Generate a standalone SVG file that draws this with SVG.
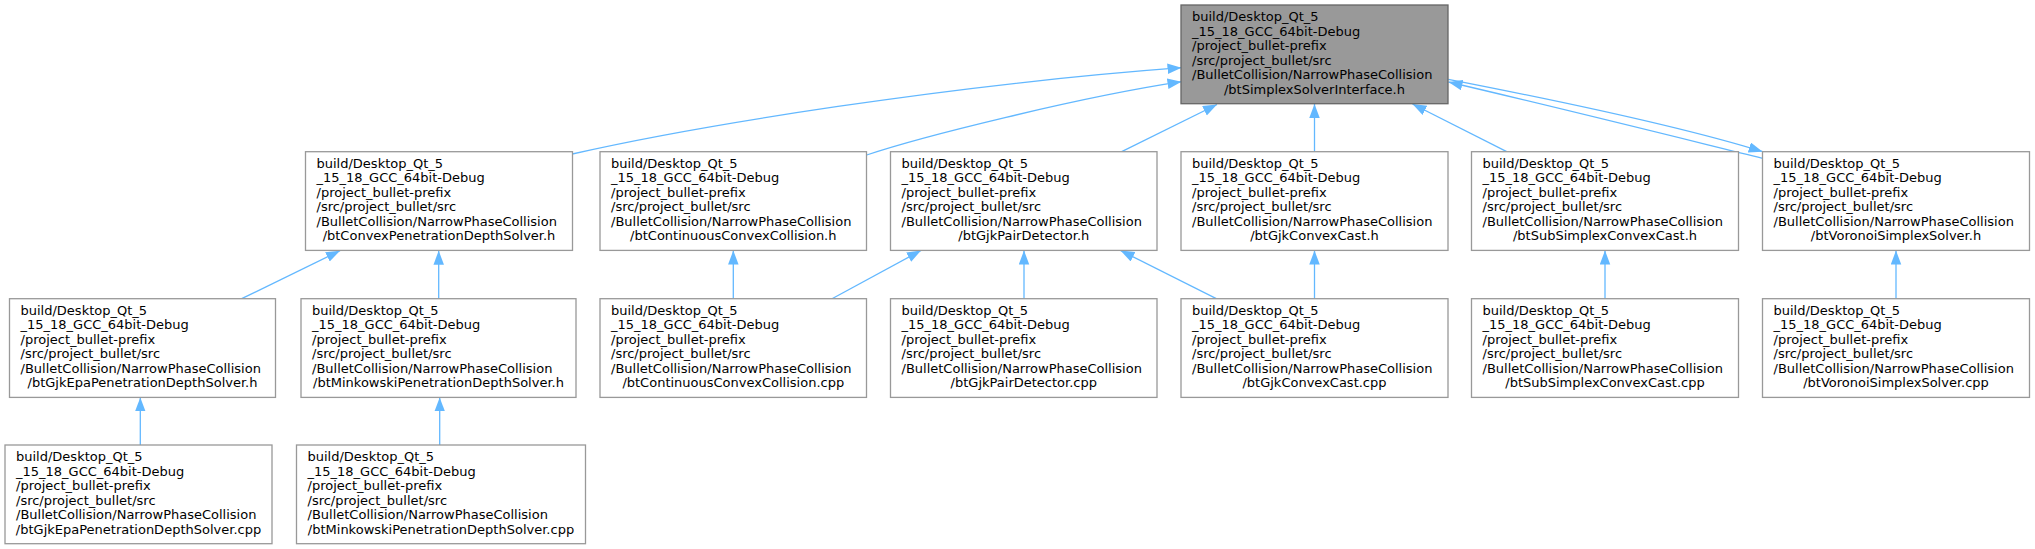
<svg xmlns="http://www.w3.org/2000/svg" width="2035" height="549" viewBox="0 0 2035 549">
<style>
.bg{fill:#ffffff}
.box{fill:#ffffff;stroke:#999999;stroke-width:1.3}
.root{fill:#999999;stroke:#666666;stroke-width:1.3}
text{font-family:"DejaVu Sans","Liberation Sans",sans-serif;font-size:13px;fill:#000000}
.c{text-anchor:middle}
.edge{fill:none;stroke:#63b8ff;stroke-width:1.3;marker-end:url(#ah)}
</style>
<defs>
<marker id="ah" markerUnits="userSpaceOnUse" markerWidth="16" markerHeight="12" refX="14" refY="5.25" orient="auto">
<path d="M0,0 L14,5.25 L0,10.5 z" fill="#63b8ff"/>
</marker>
</defs>
<rect class="bg" x="0" y="0" width="2035" height="549"/>

<g id="connectors">
<path class="edge" d="M572.3,154 C700,125 950,85 1181.5,67.7"/>
<path class="edge" d="M866.7,155 C920,137 1080,97 1181.5,81.7"/>
<path class="edge" d="M1121.7,151.7 L1217,104.5"/>
<path class="edge" d="M1314.5,151.7 L1314.5,104"/>
<path class="edge" d="M1506.7,151.7 L1412.5,104"/>
<path class="edge" d="M1762.7,158.3 C1680,138 1560,108 1448.5,82"/>
<path class="edge" d="M1448.3,79.3 C1560,101 1680,126 1762.7,151.7"/>
<path class="edge" d="M241.7,298.7 L340,250.7"/>
<path class="edge" d="M438.7,298.7 L438.7,250.7"/>
<path class="edge" d="M733.3,298.7 L733.3,250.5"/>
<path class="edge" d="M832,298.7 L921,250.5"/>
<path class="edge" d="M1024,298.7 L1024,250.5"/>
<path class="edge" d="M1216.3,298.7 L1120.5,250.5"/>
<path class="edge" d="M1314.5,298.7 L1314.5,250.5"/>
<path class="edge" d="M1605,298.7 L1605,250.5"/>
<path class="edge" d="M1896,298.7 L1896,250.5"/>
<path class="edge" d="M140.3,445 L140.3,397.4"/>
<path class="edge" d="M439.7,445 L439.7,397.4"/>
</g>

<g id="node-btSimplexSolverInterface-h">
<rect class="root" x="1181" y="5" width="267" height="98.7"/>
<text x="1192" y="21">build/Desktop_Qt_5</text>
<text x="1192" y="35.5">_15_18_GCC_64bit-Debug</text>
<text x="1192" y="50">/project_bullet-prefix</text>
<text x="1192" y="64.5">/src/project_bullet/src</text>
<text x="1192" y="79">/BulletCollision/NarrowPhaseCollision</text>
<text class="c" x="1314.5" y="93.5">/btSimplexSolverInterface.h</text>
</g>

<g id="node-btConvexPenetrationDepthSolver-h">
<rect class="box" x="305.5" y="151.7" width="267" height="98.7"/>
<text x="316.5" y="167.7">build/Desktop_Qt_5</text>
<text x="316.5" y="182.2">_15_18_GCC_64bit-Debug</text>
<text x="316.5" y="196.7">/project_bullet-prefix</text>
<text x="316.5" y="211.2">/src/project_bullet/src</text>
<text x="316.5" y="225.7">/BulletCollision/NarrowPhaseCollision</text>
<text class="c" x="439" y="240.2">/btConvexPenetrationDepthSolver.h</text>
</g>

<g id="node-btContinuousConvexCollision-h">
<rect class="box" x="600" y="151.7" width="266.5" height="98.7"/>
<text x="611" y="167.7">build/Desktop_Qt_5</text>
<text x="611" y="182.2">_15_18_GCC_64bit-Debug</text>
<text x="611" y="196.7">/project_bullet-prefix</text>
<text x="611" y="211.2">/src/project_bullet/src</text>
<text x="611" y="225.7">/BulletCollision/NarrowPhaseCollision</text>
<text class="c" x="733.3" y="240.2">/btContinuousConvexCollision.h</text>
</g>

<g id="node-btGjkPairDetector-h">
<rect class="box" x="890.5" y="151.7" width="266.5" height="98.7"/>
<text x="901.5" y="167.7">build/Desktop_Qt_5</text>
<text x="901.5" y="182.2">_15_18_GCC_64bit-Debug</text>
<text x="901.5" y="196.7">/project_bullet-prefix</text>
<text x="901.5" y="211.2">/src/project_bullet/src</text>
<text x="901.5" y="225.7">/BulletCollision/NarrowPhaseCollision</text>
<text class="c" x="1023.8" y="240.2">/btGjkPairDetector.h</text>
</g>

<g id="node-btGjkConvexCast-h">
<rect class="box" x="1181" y="151.7" width="267" height="98.7"/>
<text x="1192" y="167.7">build/Desktop_Qt_5</text>
<text x="1192" y="182.2">_15_18_GCC_64bit-Debug</text>
<text x="1192" y="196.7">/project_bullet-prefix</text>
<text x="1192" y="211.2">/src/project_bullet/src</text>
<text x="1192" y="225.7">/BulletCollision/NarrowPhaseCollision</text>
<text class="c" x="1314.5" y="240.2">/btGjkConvexCast.h</text>
</g>

<g id="node-btSubSimplexConvexCast-h">
<rect class="box" x="1471.5" y="151.7" width="267" height="98.7"/>
<text x="1482.5" y="167.7">build/Desktop_Qt_5</text>
<text x="1482.5" y="182.2">_15_18_GCC_64bit-Debug</text>
<text x="1482.5" y="196.7">/project_bullet-prefix</text>
<text x="1482.5" y="211.2">/src/project_bullet/src</text>
<text x="1482.5" y="225.7">/BulletCollision/NarrowPhaseCollision</text>
<text class="c" x="1605" y="240.2">/btSubSimplexConvexCast.h</text>
</g>

<g id="node-btVoronoiSimplexSolver-h">
<rect class="box" x="1762.5" y="151.7" width="267" height="98.7"/>
<text x="1773.5" y="167.7">build/Desktop_Qt_5</text>
<text x="1773.5" y="182.2">_15_18_GCC_64bit-Debug</text>
<text x="1773.5" y="196.7">/project_bullet-prefix</text>
<text x="1773.5" y="211.2">/src/project_bullet/src</text>
<text x="1773.5" y="225.7">/BulletCollision/NarrowPhaseCollision</text>
<text class="c" x="1896" y="240.2">/btVoronoiSimplexSolver.h</text>
</g>

<g id="node-btGjkEpaPenetrationDepthSolver-h">
<rect class="box" x="9.5" y="298.7" width="266" height="98.7"/>
<text x="20.5" y="314.7">build/Desktop_Qt_5</text>
<text x="20.5" y="329.2">_15_18_GCC_64bit-Debug</text>
<text x="20.5" y="343.7">/project_bullet-prefix</text>
<text x="20.5" y="358.2">/src/project_bullet/src</text>
<text x="20.5" y="372.7">/BulletCollision/NarrowPhaseCollision</text>
<text class="c" x="142.5" y="387.2">/btGjkEpaPenetrationDepthSolver.h</text>
</g>

<g id="node-btMinkowskiPenetrationDepthSolver-h">
<rect class="box" x="301" y="298.7" width="275" height="98.7"/>
<text x="312" y="314.7">build/Desktop_Qt_5</text>
<text x="312" y="329.2">_15_18_GCC_64bit-Debug</text>
<text x="312" y="343.7">/project_bullet-prefix</text>
<text x="312" y="358.2">/src/project_bullet/src</text>
<text x="312" y="372.7">/BulletCollision/NarrowPhaseCollision</text>
<text class="c" x="438.5" y="387.2">/btMinkowskiPenetrationDepthSolver.h</text>
</g>

<g id="node-btContinuousConvexCollision-cpp">
<rect class="box" x="600" y="298.7" width="266.5" height="98.7"/>
<text x="611" y="314.7">build/Desktop_Qt_5</text>
<text x="611" y="329.2">_15_18_GCC_64bit-Debug</text>
<text x="611" y="343.7">/project_bullet-prefix</text>
<text x="611" y="358.2">/src/project_bullet/src</text>
<text x="611" y="372.7">/BulletCollision/NarrowPhaseCollision</text>
<text class="c" x="733.3" y="387.2">/btContinuousConvexCollision.cpp</text>
</g>

<g id="node-btGjkPairDetector-cpp">
<rect class="box" x="890.5" y="298.7" width="266.5" height="98.7"/>
<text x="901.5" y="314.7">build/Desktop_Qt_5</text>
<text x="901.5" y="329.2">_15_18_GCC_64bit-Debug</text>
<text x="901.5" y="343.7">/project_bullet-prefix</text>
<text x="901.5" y="358.2">/src/project_bullet/src</text>
<text x="901.5" y="372.7">/BulletCollision/NarrowPhaseCollision</text>
<text class="c" x="1023.8" y="387.2">/btGjkPairDetector.cpp</text>
</g>

<g id="node-btGjkConvexCast-cpp">
<rect class="box" x="1181" y="298.7" width="267" height="98.7"/>
<text x="1192" y="314.7">build/Desktop_Qt_5</text>
<text x="1192" y="329.2">_15_18_GCC_64bit-Debug</text>
<text x="1192" y="343.7">/project_bullet-prefix</text>
<text x="1192" y="358.2">/src/project_bullet/src</text>
<text x="1192" y="372.7">/BulletCollision/NarrowPhaseCollision</text>
<text class="c" x="1314.5" y="387.2">/btGjkConvexCast.cpp</text>
</g>

<g id="node-btSubSimplexConvexCast-cpp">
<rect class="box" x="1471.5" y="298.7" width="267" height="98.7"/>
<text x="1482.5" y="314.7">build/Desktop_Qt_5</text>
<text x="1482.5" y="329.2">_15_18_GCC_64bit-Debug</text>
<text x="1482.5" y="343.7">/project_bullet-prefix</text>
<text x="1482.5" y="358.2">/src/project_bullet/src</text>
<text x="1482.5" y="372.7">/BulletCollision/NarrowPhaseCollision</text>
<text class="c" x="1605" y="387.2">/btSubSimplexConvexCast.cpp</text>
</g>

<g id="node-btVoronoiSimplexSolver-cpp">
<rect class="box" x="1762.5" y="298.7" width="267" height="98.7"/>
<text x="1773.5" y="314.7">build/Desktop_Qt_5</text>
<text x="1773.5" y="329.2">_15_18_GCC_64bit-Debug</text>
<text x="1773.5" y="343.7">/project_bullet-prefix</text>
<text x="1773.5" y="358.2">/src/project_bullet/src</text>
<text x="1773.5" y="372.7">/BulletCollision/NarrowPhaseCollision</text>
<text class="c" x="1896" y="387.2">/btVoronoiSimplexSolver.cpp</text>
</g>

<g id="node-btGjkEpaPenetrationDepthSolver-cpp">
<rect class="box" x="5" y="445" width="267" height="98.7"/>
<text x="16" y="461">build/Desktop_Qt_5</text>
<text x="16" y="475.5">_15_18_GCC_64bit-Debug</text>
<text x="16" y="490">/project_bullet-prefix</text>
<text x="16" y="504.5">/src/project_bullet/src</text>
<text x="16" y="519">/BulletCollision/NarrowPhaseCollision</text>
<text class="c" x="138.5" y="533.5">/btGjkEpaPenetrationDepthSolver.cpp</text>
</g>

<g id="node-btMinkowskiPenetrationDepthSolver-cpp">
<rect class="box" x="296.5" y="445" width="289" height="98.7"/>
<text x="307.5" y="461">build/Desktop_Qt_5</text>
<text x="307.5" y="475.5">_15_18_GCC_64bit-Debug</text>
<text x="307.5" y="490">/project_bullet-prefix</text>
<text x="307.5" y="504.5">/src/project_bullet/src</text>
<text x="307.5" y="519">/BulletCollision/NarrowPhaseCollision</text>
<text class="c" x="441" y="533.5">/btMinkowskiPenetrationDepthSolver.cpp</text>
</g>
</svg>
